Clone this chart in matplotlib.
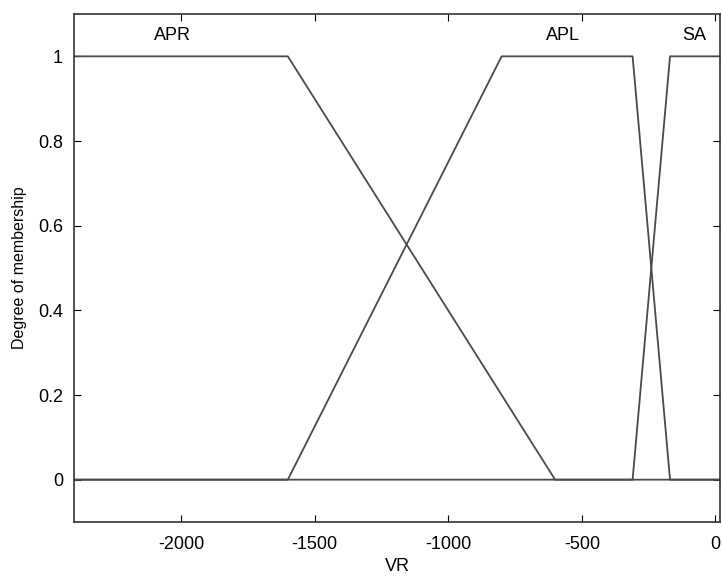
import matplotlib
matplotlib.use("Agg")
import matplotlib.pyplot as plt

plt.rcParams['font.family'] = ['Liberation Sans', 'DejaVu Sans']
plt.rcParams['axes.unicode_minus'] = False

# Membership function breakpoints (VR)
apr_x = [-2400, -1600, -600, 2400]
apr_y = [1, 1, 0, 0]
apl_x = [-2400, -1600, -800, -310, -170, 2400]
apl_y = [0, 0, 1, 1, 0, 0]
sa_x = [-2400, -310, -170, 2400]
sa_y = [0, 0, 1, 1]

labels = ["APR", "APL", "SA"]
label_x = [-2030, -570, -80]
label_y = [1.05, 1.05, 1.05]

xticks = [-2000, -1500, -1000, -500, 0]
yticks = [0, 0.2, 0.4, 0.6, 0.8, 1]
ytick_labels = ["0", "0.2", "0.4", "0.6", "0.8", "1"]

fig = plt.figure(figsize=(7.22, 5.77), dpi=100)
ax = fig.add_axes([74/722, 1-522/577, (720-74)/722, (522-14)/577])

lc = '#4a4a4a'
ax.plot(apr_x, apr_y, color=lc, lw=1.3)
ax.plot(apl_x, apl_y, color=lc, lw=1.3)
ax.plot(sa_x, sa_y, color=lc, lw=1.3)

for t, x, y in zip(labels, label_x, label_y):
    ax.text(x, y, t, ha='center', va='center', fontsize=13)

ax.set_xlim(-2400, 17)
ax.set_ylim(-0.1, 1.1)
ax.set_xticks(xticks)
ax.set_yticks(yticks)
ax.set_yticklabels(ytick_labels)
ax.tick_params(direction='in', length=5, top=True, right=True, labelsize=13, pad=8)
ax.tick_params(axis='x', pad=10)
for s in ax.spines.values():
    s.set_color('#333333')
    s.set_linewidth(1.2)
ax.set_xlabel("VR", fontsize=13, labelpad=4)
ax.set_ylabel("Degree of membership", fontsize=11.5, labelpad=8)

fig.savefig("out.png", dpi=100)
